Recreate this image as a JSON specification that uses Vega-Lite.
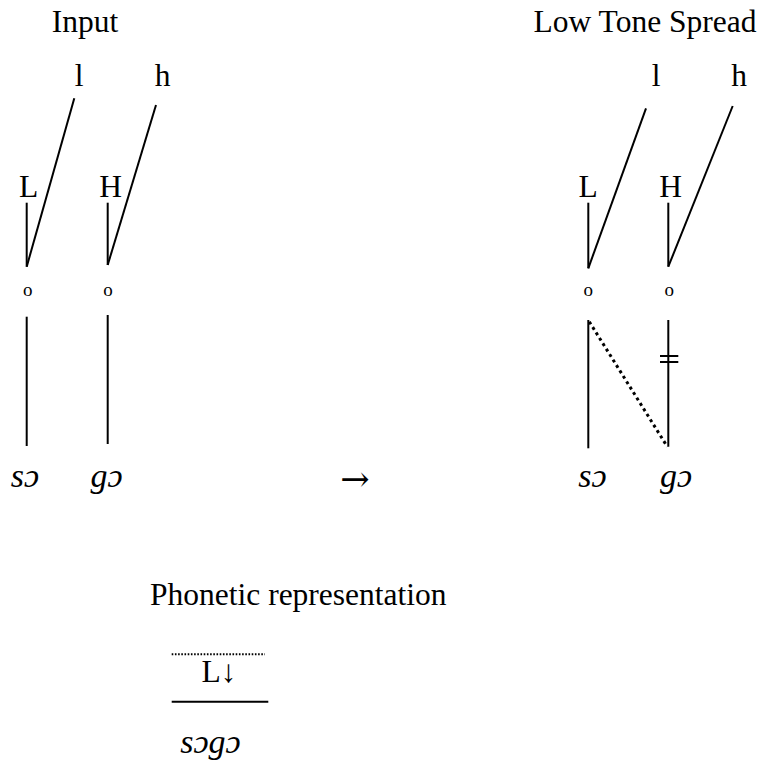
{
  "$schema": "https://vega.github.io/schema/vega-lite/v6.json",
  "width": 763,
  "height": 767,
  "padding": 0,
  "autosize": {"type": "fit", "contains": "padding"},
  "background": "white",
  "config": {"view": {"stroke": null}},
  "datasets": {
    "solid": [
      {"x": 74.3, "y": 98.3, "x2": 26.7, "y2": 266.7},
      {"x": 156, "y": 105, "x2": 107.7, "y2": 265},
      {"x": 26.7, "y": 202.7, "x2": 26.7, "y2": 266.7},
      {"x": 107.7, "y": 202.7, "x2": 107.7, "y2": 265},
      {"x": 26.7, "y": 316.7, "x2": 26.7, "y2": 446},
      {"x": 107.7, "y": 315, "x2": 107.7, "y2": 444},
      {"x": 646, "y": 108.3, "x2": 588.3, "y2": 268.3},
      {"x": 732.7, "y": 106, "x2": 668.3, "y2": 266.7},
      {"x": 588.3, "y": 202.7, "x2": 588.3, "y2": 268.3},
      {"x": 668.3, "y": 202.7, "x2": 668.3, "y2": 266.7},
      {"x": 588.3, "y": 320, "x2": 588.3, "y2": 448.3},
      {"x": 668.3, "y": 320, "x2": 668.3, "y2": 446.7},
      {"x": 660, "y": 356, "x2": 678.3, "y2": 356},
      {"x": 660, "y": 362, "x2": 678.3, "y2": 362},
      {"x": 171.7, "y": 701.7, "x2": 268.3, "y2": 701.7}
    ],
    "dotted": [
      {"x": 589.3, "y": 321.7, "x2": 667.3, "y2": 446.7}
    ],
    "fine": [
      {"x": 171.7, "y": 654.3, "x2": 265, "y2": 654.3}
    ],
    "texts": [
      {"x": 85, "y": 32, "t": "Input"},
      {"x": 645, "y": 32, "t": "Low Tone Spread"},
      {"x": 79, "y": 86, "t": "l"},
      {"x": 162.5, "y": 86, "t": "h"},
      {"x": 656, "y": 86, "t": "l"},
      {"x": 739, "y": 86, "t": "h"},
      {"x": 28.5, "y": 197, "t": "L"},
      {"x": 110.7, "y": 197, "t": "H"},
      {"x": 588, "y": 197, "t": "L"},
      {"x": 670.5, "y": 197, "t": "H"},
      {"x": 298.3, "y": 605, "t": "Phonetic representation"},
      {"x": 219, "y": 681.7, "t": "L↓"}
    ],
    "arrow": [
      {"x": 355, "y": 491, "t": "→"}
    ],
    "small": [
      {"x": 27.7, "y": 296, "t": "o"},
      {"x": 108, "y": 296, "t": "o"},
      {"x": 588.3, "y": 296, "t": "o"},
      {"x": 669.3, "y": 296, "t": "o"}
    ],
    "italic": [
      {"x": 25, "y": 487, "t": "sɔ"},
      {"x": 106.5, "y": 487, "t": "gɔ"},
      {"x": 592.5, "y": 487, "t": "sɔ"},
      {"x": 676, "y": 487, "t": "gɔ"},
      {"x": 210.5, "y": 753, "t": "sɔgɔ"}
    ]
  },
  "layer": [
    {
      "data": {"name": "solid"},
      "mark": {"type": "rule", "color": "black", "strokeWidth": 2},
      "encoding": {
        "x": {"field": "x", "type": "quantitative", "scale": {"domain": [0, 763], "nice": false, "zero": false}, "axis": null},
        "y": {"field": "y", "type": "quantitative", "scale": {"domain": [0, 767], "nice": false, "zero": false, "reverse": true}, "axis": null},
        "x2": {"field": "x2"},
        "y2": {"field": "y2"}
      }
    },
    {
      "data": {"name": "dotted"},
      "mark": {"type": "rule", "color": "black", "strokeWidth": 3, "strokeDash": [3, 3.4]},
      "encoding": {
        "x": {"field": "x", "type": "quantitative", "axis": null},
        "y": {"field": "y", "type": "quantitative", "axis": null},
        "x2": {"field": "x2"},
        "y2": {"field": "y2"}
      }
    },
    {
      "data": {"name": "fine"},
      "mark": {"type": "rule", "color": "black", "strokeWidth": 2, "strokeDash": [1.6, 1.6]},
      "encoding": {
        "x": {"field": "x", "type": "quantitative", "axis": null},
        "y": {"field": "y", "type": "quantitative", "axis": null},
        "x2": {"field": "x2"},
        "y2": {"field": "y2"}
      }
    },
    {
      "data": {"name": "texts"},
      "mark": {"type": "text", "font": "Liberation Serif", "fontSize": 31.5, "align": "center", "baseline": "alphabetic", "color": "black"},
      "encoding": {
        "x": {"field": "x", "type": "quantitative", "axis": null},
        "y": {"field": "y", "type": "quantitative", "axis": null},
        "text": {"field": "t"}
      }
    },
    {
      "data": {"name": "arrow"},
      "mark": {"type": "text", "font": "DejaVu Serif", "fontSize": 35, "align": "center", "baseline": "alphabetic", "color": "black"},
      "encoding": {
        "x": {"field": "x", "type": "quantitative", "axis": null},
        "y": {"field": "y", "type": "quantitative", "axis": null},
        "text": {"field": "t"}
      }
    },
    {
      "data": {"name": "small"},
      "mark": {"type": "text", "font": "Liberation Serif", "fontSize": 19, "align": "center", "baseline": "alphabetic", "color": "black"},
      "encoding": {
        "x": {"field": "x", "type": "quantitative", "axis": null},
        "y": {"field": "y", "type": "quantitative", "axis": null},
        "text": {"field": "t"}
      }
    },
    {
      "data": {"name": "italic"},
      "mark": {"type": "text", "font": "Liberation Serif", "fontSize": 34, "fontStyle": "italic", "align": "center", "baseline": "alphabetic", "color": "black"},
      "encoding": {
        "x": {"field": "x", "type": "quantitative", "axis": null},
        "y": {"field": "y", "type": "quantitative", "axis": null},
        "text": {"field": "t"}
      }
    }
  ]
}
